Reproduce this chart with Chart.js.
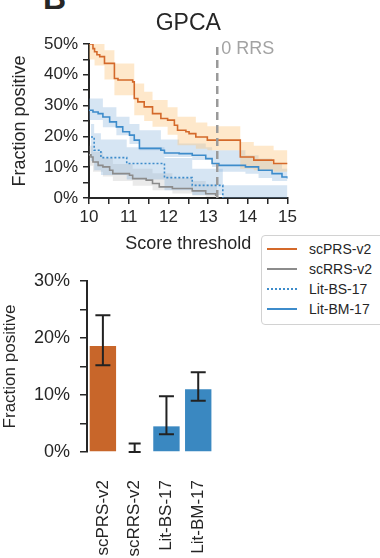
<!DOCTYPE html>
<html>
<head>
<meta charset="utf-8">
<script src="https://cdn.jsdelivr.net/npm/chart.js@4.4.0/dist/chart.umd.min.js"></script>
<style>
  body { margin: 0; background: #fff; width: 380px; height: 558px; overflow: hidden; position: relative;
         font-family: "Liberation Sans", Arial, sans-serif; color: #262626; }
  #panelLetter { position: absolute; left: 43px; top: -18px; font-weight: bold; font-size: 32px; line-height: 32px; }
  #lineWrap { position: absolute; left: 0; top: 0; width: 300px; height: 256px; }
  #barWrap { position: absolute; left: 0; top: 258px; width: 240px; height: 300px; }
  #legendBox { position: absolute; left: 261px; top: 235px; width: 130px; height: 90px;
               border: 1.5px solid #d2d2d2; border-radius: 4px; box-sizing: border-box; background: #fff; }
  .leg-row { position: absolute; left: 0; height: 20px; width: 120px; }
  .leg-line { position: absolute; display: block; left: 5px; top: 9px; width: 30px; height: 0; }
  .leg-text { position: absolute; left: 47px; top: 0; font-size: 14px; line-height: 20px; color: #262626; }
</style>
</head>
<body>
<div id="panelLetter">B</div>
<div id="lineWrap"><canvas id="lineChart"></canvas></div>
<div id="barWrap"><canvas id="barChart"></canvas></div>
<div id="legendBox"></div>

<script>
/* ---------- data: step curves as [score, percent] ---------- */
const prsLine = [[10, 50], [10.1, 48.5], [10.14, 47.5], [10.2, 46.5], [10.27, 45.9], [10.39, 43.7], [10.64, 38.8],
  [10.73, 38.3], [11.1, 37.7], [11.14, 32.3], [11.23, 31.2], [11.39, 29.6], [11.6, 27.4], [11.81, 25.8],
  [11.98, 25.3], [12.15, 23.6], [12.23, 22.0], [12.44, 21.5], [12.52, 20.9], [12.69, 19.8], [12.98, 18.8],
  [13.81, 13.3], [14.15, 12.3], [14.65, 11.2], [15, 11.2]];
const prsUpper = [[10, 50], [10.39, 48], [10.64, 43.7], [11.14, 37.2], [11.39, 34.5], [11.6, 31.8], [11.98, 29.5],
  [12.23, 26.4], [12.69, 24.5], [12.98, 23.3], [13.81, 18.2], [14.15, 17], [14.65, 15.5], [15, 15.5]];
const prsLower = [[10, 45], [10.14, 43], [10.39, 38.5], [10.64, 33.4], [11.14, 26.9], [11.39, 25], [11.6, 23.1],
  [11.98, 20.5], [12.23, 17.1], [12.69, 16.0], [12.98, 15.5], [13.81, 9.5], [14.15, 9], [14.65, 8.5], [15, 8.5]];

const bmLine = [[10, 28.5], [10.1, 27.9], [10.23, 27.4], [10.35, 26.3], [10.52, 24.7], [10.69, 23.1], [10.85, 21.5],
  [11.02, 20.4], [11.14, 18.8], [11.27, 16.1], [11.81, 15.5], [11.9, 14.6], [12.27, 14.4], [12.6, 13.9],
  [12.94, 12.8], [13.1, 11.2], [13.27, 10.6], [13.94, 10.1], [14.27, 9.0], [14.61, 7.9], [14.86, 6.8], [15, 6.3]];
const bmUpper = [[10, 32.3], [10.35, 29.5], [10.69, 26.4], [11.02, 24], [11.27, 22], [11.81, 19], [12.27, 17.7],
  [12.94, 16.5], [13.1, 15.5], [13.94, 13.9], [14.27, 12.8], [14.61, 11], [14.86, 9.5], [15, 9]];
const bmLower = [[10, 25.3], [10.35, 23], [10.69, 20.4], [11.02, 17.5], [11.27, 15.5], [11.9, 13.3], [12.6, 12.3],
  [13.1, 10.1], [13.27, 8.5], [13.94, 7.9], [14.27, 6.5], [14.61, 5.5], [15, 5.0]];

const bsLine = [[10.05, 19.8], [10.13, 15.5], [10.3, 13.1], [10.95, 11.2], [11.9, 6.6], [12.6, 4.1], [13.37, 0]];
const bsUpper = [[10.05, 24], [10.13, 21], [10.3, 19], [10.95, 16.5], [11.9, 13], [12.6, 9.5], [13.37, 4.1], [15, 4.1]];
const bsLower = [[10.05, 12], [10.13, 9], [10.3, 7.5], [10.95, 6], [11.9, 2.5], [12.6, 1], [13.37, 0], [15, 0]];

const rrsLine = [[10, 14], [10.05, 13.3], [10.1, 11.7], [10.23, 10.6], [10.35, 10.1], [10.52, 9.0], [10.6, 7.9],
  [11.02, 7.4], [11.1, 6.3], [11.44, 5.8], [11.6, 4.7], [11.77, 3.6], [12.1, 3.1], [12.6, 2.3], [12.94, 1.4],
  [13.19, 0.9], [13.23, 0]];
const rrsUpper = [[10, 17], [10.1, 15], [10.35, 13], [10.6, 11], [11.1, 9.5], [11.6, 8], [12.1, 6.5], [12.6, 5.5],
  [12.94, 4.5], [13.23, 4]];
const rrsLower = [[10, 10.5], [10.1, 8.5], [10.35, 7], [10.6, 5.5], [11.1, 4], [11.6, 2.5], [12.1, 1.5], [12.6, 0.8],
  [12.94, 0.3], [13.23, 0]];

const rrsZeroScore = 13.23;

/* ---------- data: bar panel ---------- */
const barCats = ["scPRS-v2", "scRRS-v2", "Lit-BS-17", "Lit-BM-17"];
const barVals = [18.6, 0, 4.5, 11.0];
const errLow = [15.2, 0, 3.1, 9.0];
const errHigh = [24.0, 1.5, 9.8, 14.0];

const FONT = "'Liberation Sans', Arial, sans-serif";
const INK = "#262626";
const ORANGE = "#d4692a";
const BLUE = "#3d8ccb";
const GRAY = "#8c8c8c";

const pts = arr => arr.map(([x, y]) => ({ x, y }));

function band(upper, lower, color) {
    return [
        { data: pts(upper), borderWidth: 0, pointRadius: 0, fill: false, stepped: true, order: 2 },
        { data: pts(lower), borderWidth: 0, pointRadius: 0, fill: "-1", backgroundColor: color, stepped: true, order: 2 }
    ];
}

function curve(arr, color, dash) {
    return { data: pts(arr), borderColor: color, borderWidth: 1.6, borderDash: dash || [], pointRadius: 0,
             fill: false, stepped: true, order: 0 };
}

/* ---------- top: step curves ---------- */
const rrsLabel = {
    id: "rrsLabel",
    afterDatasetsDraw(chart) {
        const { ctx, scales: { x, y } } = chart;
        ctx.save();
        ctx.fillStyle = "#a3a3a3";
        ctx.font = "18px " + FONT;
        ctx.textBaseline = "middle";
        ctx.fillText("0 RRS", x.getPixelForValue(rrsZeroScore) + 4, y.getPixelForValue(50) + 5);
        ctx.restore();
    }
};

new Chart(document.getElementById("lineChart"), {
    type: "line",
    data: {
        datasets: [
            ...band(prsUpper, prsLower, "rgba(253, 200, 130, 0.42)"),
            ...band(bmUpper, bmLower, "rgba(120, 170, 215, 0.3)"),
            ...band(bsUpper, bsLower, "rgba(120, 170, 215, 0.3)"),
            ...band(rrsUpper, rrsLower, "rgba(160, 160, 160, 0.22)"),
            curve(rrsLine, GRAY),
            curve(bsLine, BLUE, [2, 2]),
            curve(bmLine, BLUE),
            curve(prsLine, ORANGE),
            { data: [{ x: rrsZeroScore, y: 0 }, { x: rrsZeroScore, y: 50 }], borderColor: "#9a9a9a",
              borderWidth: 2.5, borderDash: [8, 5], pointRadius: 0, fill: false, order: -1 }
        ]
    },
    options: {
        responsive: true,
        maintainAspectRatio: false,
        animation: false,
        layout: { padding: { left: 0, right: 11, top: 0, bottom: 0 } },
        plugins: {
            legend: { display: false },
            tooltip: { enabled: false },
            title: { display: true, text: "GPCA", fullSize: false, color: INK,
                     font: { family: FONT, size: 23, weight: "normal" }, padding: { top: 10, bottom: 6.4 } }
        },
        scales: {
            x: {
                type: "linear", min: 10, max: 15,
                afterFit: s => { s.height = 58; },
                border: { color: INK, width: 2 },
                grid: { drawOnChartArea: false, tickLength: 6, color: INK, lineWidth: 1.5 },
                ticks: { stepSize: 0.5, autoSkip: false, maxRotation: 0, padding: 3, color: INK,
                         font: { family: FONT, size: 17 },
                         callback: v => Number.isInteger(v) ? v : "" },
                title: { display: true, text: "Score threshold", color: INK,
                         font: { family: FONT, size: 18 }, padding: { top: 0, bottom: 1.2 } }
            },
            y: {
                min: 0, max: 50,
                afterFit: s => { s.width = 89; },
                border: { color: INK, width: 2 },
                grid: { drawOnChartArea: false, tickLength: 6, color: INK, lineWidth: 1.5 },
                ticks: { stepSize: 5, autoSkip: false, padding: 5, color: INK,
                         font: { family: FONT, size: 17 },
                         callback: v => v % 10 === 0 ? v + "%" : "" },
                title: { display: true, text: "Fraction positive", color: INK,
                         font: { family: FONT, size: 18 }, padding: { top: 9, bottom: 0 } }
            }
        }
    },
    plugins: [rrsLabel]
});

/* ---------- legend ---------- */
const legendNames = ["scPRS-v2", "scRRS-v2", "Lit-BS-17", "Lit-BM-17"];
const legendColors = [ORANGE, GRAY, BLUE, BLUE];
const legendStyles = ["solid", "solid", "dotted", "solid"];
const legendBox = document.getElementById("legendBox");
legendNames.forEach((name, i) => {
    const row = document.createElement("div");
    row.className = "leg-row";
    row.style.top = (3 + 20 * i) + "px";
    const line = document.createElement("span");
    line.className = "leg-line";
    line.style.borderTop = "2px " + legendStyles[i] + " " + legendColors[i];
    const text = document.createElement("span");
    text.className = "leg-text";
    text.textContent = name;
    row.appendChild(line);
    row.appendChild(text);
    legendBox.appendChild(row);
});

/* ---------- bottom: bars with error bars ---------- */
const errorBars = {
    id: "errorBars",
    afterDatasetsDraw(chart) {
        const { ctx, scales: { x, y } } = chart;
        ctx.save();
        ctx.strokeStyle = "#222";
        ctx.lineWidth = 2;
        barCats.forEach((c, i) => {
            const px = x.getPixelForValue(i);
            const lo = y.getPixelForValue(errLow[i]);
            const hi = y.getPixelForValue(errHigh[i]);
            const half = i === 1 ? 6 : 7.5;
            ctx.beginPath();
            ctx.moveTo(px, lo); ctx.lineTo(px, hi);
            ctx.moveTo(px - half, lo); ctx.lineTo(px + half, lo);
            ctx.moveTo(px - half, hi); ctx.lineTo(px + half, hi);
            ctx.stroke();
        });
        ctx.restore();
    }
};

new Chart(document.getElementById("barChart"), {
    type: "bar",
    data: {
        labels: barCats,
        datasets: [{
            data: barVals,
            backgroundColor: ["#c8662a", "#c8c8c8", "#3a88c1", "#3a88c1"],
            barPercentage: 0.83,
            categoryPercentage: 1
        }]
    },
    options: {
        responsive: true,
        maintainAspectRatio: false,
        animation: false,
        layout: { padding: { left: 0, right: 11, top: 23, bottom: 0 } },
        plugins: { legend: { display: false }, tooltip: { enabled: false } },
        scales: {
            x: {
                afterFit: s => { s.height = 106; },
                border: { display: false },
                grid: { display: false },
                ticks: { minRotation: 90, maxRotation: 90, padding: 20, color: INK,
                         font: { family: FONT, size: 17 } }
            },
            y: {
                min: 0, max: 30,
                afterFit: s => { s.width = 87; },
                border: { color: INK, width: 2 },
                grid: { drawOnChartArea: false, tickLength: 7, color: INK, lineWidth: 1.5 },
                ticks: { stepSize: 5, autoSkip: false, padding: 10, color: INK,
                         font: { family: FONT, size: 18 },
                         callback: v => v % 10 === 0 ? v + "%" : "" },
                title: { display: true, text: "Fraction positive", color: INK,
                         font: { family: FONT, size: 17 }, padding: { top: 0, bottom: 0 } }
            }
        }
    },
    plugins: [errorBars]
});
</script>
</body>
</html>
